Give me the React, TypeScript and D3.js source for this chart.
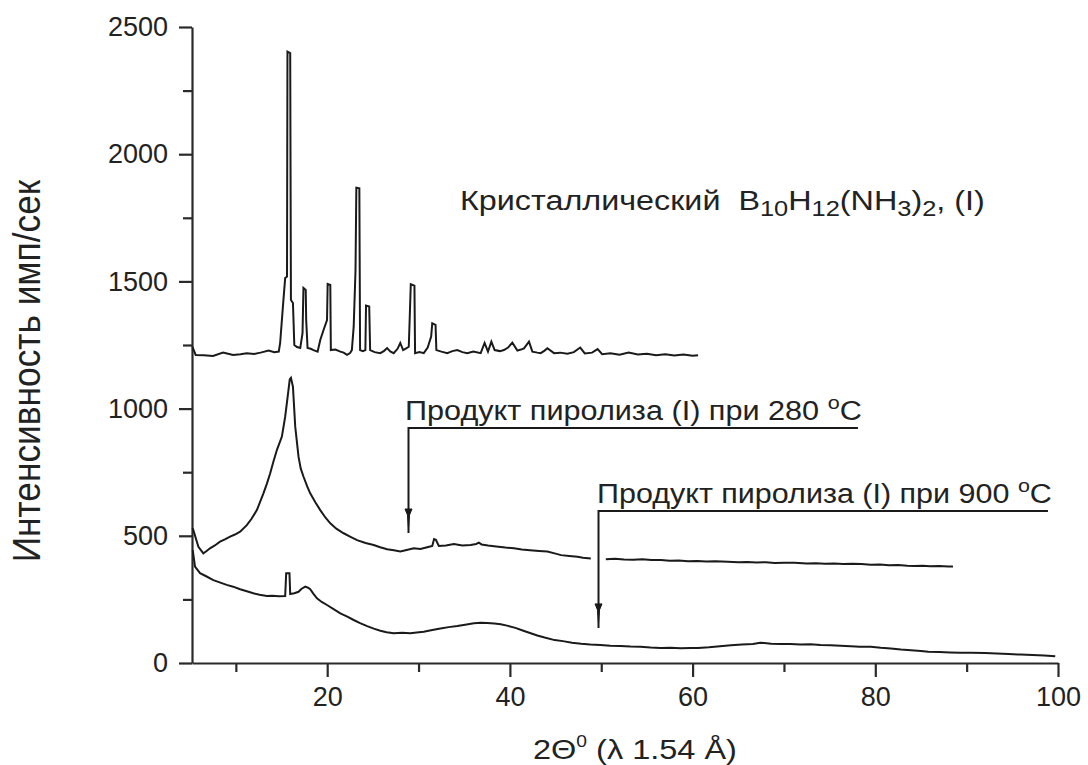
import React, { useRef, useEffect } from "react";
import * as d3 from "d3";

// axis ticks
const xTicksMajor = [20, 40, 60, 80, 100];
const xTicksMinor = [10, 30, 50, 70, 90];
const yTicksMajor = [0, 500, 1000, 1500, 2000, 2500];
const yTicksMinor = [250, 750, 1250, 1750, 2250];

// crystalline B10H12(NH3)2 pattern, [2theta, counts]
const crystal: [number, number][] = [
  [5.25, 1243], [5.6, 1211], [6.5, 1210], [7.5, 1207], [8.6, 1220], [9.7, 1211], [10.5, 1214], [11.2, 1218],
  [12.0, 1215], [12.7, 1220], [13.6, 1228], [14.2, 1222], [14.7, 1224], [14.85, 1258], [15.15, 1400], [15.4, 1513],
  [15.6, 1519], [15.65, 2403], [15.95, 2397], [16.03, 1427], [16.25, 1415], [16.4, 1250], [16.7, 1242], [17.05, 1238],
  [17.3, 1297], [17.4, 1474], [17.65, 1466], [17.7, 1348], [17.85, 1238], [18.2, 1235], [18.5, 1230], [18.95, 1224],
  [19.24, 1270], [19.6, 1309], [19.98, 1348], [20.05, 1490], [20.34, 1486], [20.4, 1230], [20.9, 1232], [21.44, 1224],
  [21.8, 1220], [22.17, 1211], [22.5, 1218], [22.7, 1230], [22.9, 1322], [23.1, 1545], [23.19, 1868], [23.52, 1866],
  [23.6, 1230], [23.9, 1226], [24.18, 1230], [24.25, 1405], [24.6, 1401], [24.7, 1230], [25.2, 1222], [25.8, 1218],
  [26.2, 1226], [26.56, 1238], [26.9, 1225], [27.28, 1218], [27.7, 1235], [28.0, 1258], [28.31, 1230], [28.6, 1236],
  [28.93, 1243], [29.05, 1375], [29.15, 1489], [29.55, 1483], [29.62, 1218], [30.1, 1222], [30.57, 1218], [31.0, 1240],
  [31.38, 1283], [31.5, 1335], [31.86, 1329], [31.95, 1230], [32.5, 1224], [33.14, 1218], [33.7, 1226], [34.24, 1230],
  [34.8, 1222], [35.33, 1218], [36.0, 1224], [36.8, 1218], [37.23, 1258], [37.6, 1224], [37.97, 1263], [38.33, 1230],
  [38.9, 1226], [39.35, 1230], [39.8, 1240], [40.27, 1259], [40.82, 1228], [41.2, 1232], [41.54, 1237], [42.09, 1263],
  [42.46, 1224], [43.0, 1220], [43.37, 1218], [43.8, 1228], [44.1, 1237], [44.83, 1218], [45.5, 1220], [46.3, 1216],
  [47.0, 1222], [47.7, 1240], [48.2, 1217], [49.0, 1220], [49.6, 1234], [50.1, 1214], [51.0, 1218], [52.0, 1212],
  [53.0, 1220], [54.0, 1213], [55.0, 1216], [56.0, 1210], [57.0, 1214], [58.0, 1209], [59.0, 1213], [60.0, 1208],
  [60.6, 1210],
];

// pyrolysis product at 280 C (null = break around the arrow)
const pyro280: [number, number | null][] = [
  [5.25, 530], [5.34, 523], [5.9, 457], [6.44, 431], [6.8, 440], [7.17, 451], [7.7, 462], [8.27, 477],
  [8.8, 486], [9.37, 497], [9.9, 505], [10.47, 516], [11.2, 542], [11.7, 566], [12.3, 601], [13.02, 667],
  [13.4, 705], [13.76, 746], [14.1, 790], [14.49, 837], [15.04, 890], [15.4, 968], [15.76, 1073], [15.9, 1115],
  [16.03, 1121], [16.25, 1086], [16.5, 929], [16.86, 811], [17.1, 765], [17.41, 732], [17.8, 695], [18.14, 667],
  [18.7, 632], [19.24, 601], [19.8, 572], [20.34, 549], [21.0, 528], [21.8, 510], [22.5, 497], [23.27, 483],
  [24.2, 472], [25.09, 464], [25.8, 455], [26.56, 447], [27.3, 443], [28.0, 438], [28.7, 444], [29.48, 451],
  [30.2, 448], [30.95, 455], [31.5, 460], [31.7, 487], [31.9, 484], [32.22, 460], [33.0, 462], [33.86, 468],
  [34.8, 462], [35.7, 464], [36.3, 468], [36.6, 473], [36.9, 466], [37.6, 462], [38.5, 458], [39.5, 454],
  [40.45, 451], [41.3, 446], [42.2, 443], [43.2, 440], [44.1, 438], [45.0, 430], [45.6, 424], [46.5, 421],
  [47.4, 418], [48.0, 414], [48.86, 411], [49.6, null], [50.5, 408], [51.5, 410], [52.5, 407], [53.5, 406],
  [54.5, 408], [55.5, 405], [56.54, 405], [57.5, 402], [58.5, 403], [59.5, 400], [60.5, 401], [61.5, 399],
  [62.5, 400], [63.85, 398], [65.0, 396], [66.0, 397], [67.0, 395], [68.0, 396], [69.0, 393], [70.0, 394],
  [71.16, 394], [72.5, 391], [73.5, 392], [74.5, 390], [75.5, 391], [76.5, 389], [77.5, 390], [78.48, 389],
  [79.5, 386], [80.5, 387], [81.5, 384], [82.5, 385], [83.5, 382], [84.3, 381], [85.2, 382], [86.0, 380],
  [87.0, 381], [88.0, 379], [88.5, 379],
];

// pyrolysis product at 900 C
const pyro900: [number, number][] = [
  [5.28, 444], [5.53, 379], [6.08, 353], [6.8, 340], [7.54, 326], [8.3, 316], [9.0, 307], [9.7, 300],
  [10.47, 290], [11.2, 282], [11.92, 274], [12.6, 268], [13.39, 263], [14.0, 264], [14.7, 262], [15.4, 263],
  [15.51, 353], [15.87, 353], [15.95, 271], [16.4, 274], [16.86, 280], [17.2, 292], [17.6, 300], [17.9, 296],
  [18.14, 290], [18.5, 272], [18.88, 254], [19.4, 240], [19.98, 228], [20.7, 212], [21.44, 195], [22.2, 182],
  [22.9, 169], [23.6, 157], [24.37, 145], [25.1, 135], [25.82, 127], [26.5, 121], [27.28, 117], [28.2, 119],
  [29.1, 117], [29.8, 120], [30.57, 123], [31.5, 130], [32.4, 136], [33.3, 141], [34.24, 145], [35.1, 150],
  [36.06, 156], [36.8, 158], [37.5, 157], [38.3, 155], [39.0, 152], [39.8, 146], [40.6, 138], [41.4, 128],
  [42.2, 118], [43.0, 108], [43.8, 100], [44.9, 90], [45.8, 86], [46.8, 80], [47.8, 76], [48.8, 73],
  [49.9, 71], [51.0, 68], [52.1, 67], [53.2, 65], [54.3, 64], [55.4, 61], [56.5, 59], [57.6, 60],
  [58.7, 58], [59.8, 59], [60.6, 59], [61.8, 62], [63.0, 66], [64.2, 70], [65.4, 73], [66.6, 75],
  [67.4, 80], [68.6, 76], [69.7, 75], [70.7, 75], [71.8, 73], [72.9, 74], [74.0, 71], [75.1, 70],
  [76.2, 68], [77.3, 66], [78.3, 64], [79.5, 64], [80.6, 60], [81.7, 57], [82.8, 53], [83.9, 50],
  [85.0, 47], [85.8, 44], [87.0, 43], [88.2, 41], [89.3, 40], [90.5, 40], [92.0, 39], [93.3, 37],
  [94.6, 35], [95.9, 33], [97.2, 31], [98.5, 29], [99.7, 27],
];

// annotation arrows: [arrow 2theta, line level, arrow tip level, line end 2theta]
const arrow280 = [28.9, 924, 511, 78.1];
const arrow900 = [49.7, 597, 138, 98.9];

const FONT = "'Liberation Sans', Arial, Helvetica, sans-serif";
const INK = "#222";

function App() {
  const svgRef = useRef<SVGSVGElement>(null);

  useEffect(() => {
    const svg = d3.select(svgRef.current);
    svg.selectAll("*").remove();

    const x = d3.scaleLinear().domain([5.2, 100]).range([192, 1058]);
    const y = d3.scaleLinear().domain([0, 2500]).range([663, 27]);

    // axes
    const styleAxis = (g: any) => {
      g.selectAll("path,line").attr("stroke", "#2a2a2a").attr("stroke-width", 2.2);
      g.selectAll("text").attr("font-family", FONT).attr("font-size", 27).attr("fill", INK);
    };
    svg.append("g").attr("transform", `translate(0,${y(0)})`)
      .call(d3.axisBottom(x).tickValues(xTicksMinor).tickSize(9).tickFormat(() => ""))
      .call((g: any) => g.select(".domain").remove())
      .call(styleAxis);
    svg.append("g").attr("transform", `translate(0,${y(0)})`)
      .call(d3.axisBottom(x).tickValues(xTicksMajor).tickSize(14).tickSizeOuter(0).tickPadding(10).tickFormat(d3.format("d")))
      .call(styleAxis);
    svg.append("g").attr("transform", `translate(${x(5.2)},0)`)
      .call(d3.axisLeft(y).tickValues(yTicksMinor).tickSize(9).tickFormat(() => ""))
      .call((g: any) => g.select(".domain").remove())
      .call(styleAxis);
    svg.append("g").attr("transform", `translate(${x(5.2)},0)`)
      .call(d3.axisLeft(y).tickValues(yTicksMajor).tickSize(13).tickSizeOuter(0).tickPadding(11).tickFormat(d3.format("d")))
      .call(styleAxis);

    // patterns
    const line = d3.line<[number, number | null]>()
      .defined(d => d[1] !== null)
      .x(d => x(d[0]))
      .y(d => y(d[1] as number));
    [crystal, pyro280, pyro900].forEach(s => {
      svg.append("path").datum(s as any).attr("d", line as any)
        .attr("fill", "none").attr("stroke", "#1a1a1a").attr("stroke-width", 2)
        .attr("stroke-linejoin", "miter");
    });

    // annotation arrows
    [arrow280, arrow900].forEach(([ax, lvl, tip, xe]) => {
      const g = svg.append("g").attr("stroke", "#1a1a1a").attr("stroke-width", 2).attr("fill", "#1a1a1a");
      g.append("path").attr("fill", "none")
        .attr("d", `M${x(xe)},${y(lvl)}H${x(ax)}V${y(tip)}`);
      g.append("path").attr("stroke-width", 1)
        .attr("d", `M${x(ax) - 3.5},${y(tip) - 24}L${x(ax) + 3.5},${y(tip) - 24}L${x(ax) + 1},${y(tip) - 18}L${x(ax)},${y(tip) - 4}L${x(ax) - 1},${y(tip) - 18}Z`);
    });

    // stretch a text group so it spans x0..x1
    const fit = (g: any, x0: number, x1: number, base: number) => {
      const w = g.node().getBBox().width;
      g.attr("transform", `translate(${x0},${base}) scale(${(x1 - x0) / w},1)`);
    };
    const label = (size: number) => svg.append("g").append("text")
      .attr("font-family", FONT).attr("font-size", size).attr("fill", INK);

    // crystalline label
    const t1 = label(28);
    t1.append("tspan").text("Кристаллический\u00A0\u00A0B");
    t1.append("tspan").attr("font-size", 22).attr("dy", 6).text("10");
    t1.append("tspan").attr("dy", -6).text("H");
    t1.append("tspan").attr("font-size", 22).attr("dy", 6).text("12");
    t1.append("tspan").attr("dy", -6).text("(NH");
    t1.append("tspan").attr("font-size", 22).attr("dy", 6).text("3");
    t1.append("tspan").attr("dy", -6).text(")");
    t1.append("tspan").attr("font-size", 22).attr("dy", 6).text("2");
    t1.append("tspan").attr("dy", -6).text(", (I)");
    fit(d3.select(t1.node().parentNode), 460, 985, 210);

    const pyroLabel = (temp: string, x0: number, x1: number, base: number) => {
      const t = label(27);
      t.append("tspan").text(`Продукт пиролиза (I) при ${temp}\u00A0`);
      t.append("tspan").attr("font-size", 19).attr("dy", -11).text("o");
      t.append("tspan").attr("dy", 11).text("C");
      fit(d3.select(t.node().parentNode), x0, x1, base);
    };
    pyroLabel("280", 405, 862, y(arrow280[1]) - 8);
    pyroLabel("900", 597, 1052, y(arrow900[1]) - 8);

    // x axis title
    const tx = label(27);
    tx.append("tspan").text("2Θ");
    tx.append("tspan").attr("font-size", 16).attr("dy", -12).text("0");
    tx.append("tspan").attr("dy", 12).text("\u00A0(λ 1.54 Å)");
    fit(d3.select(tx.node().parentNode), 533, 737, 759);

    // y axis title
    const ty = svg.append("g");
    const tyt = ty.append("text").attr("font-family", FONT).attr("font-size", 38).attr("fill", INK)
      .attr("text-anchor", "middle").text("Интенсивность  имп/сек");
    const len = (tyt.node() as any).getBBox().width;
    ty.attr("transform", `translate(40,371) rotate(-90) scale(${383 / len},1)`);
  }, []);

  return (
    <div>
      <svg ref={svgRef} width={1088} height={765}
        style={{ position: "absolute", left: 0, top: 0, background: "#fff" }} />
    </div>
  );
}

export default App;
